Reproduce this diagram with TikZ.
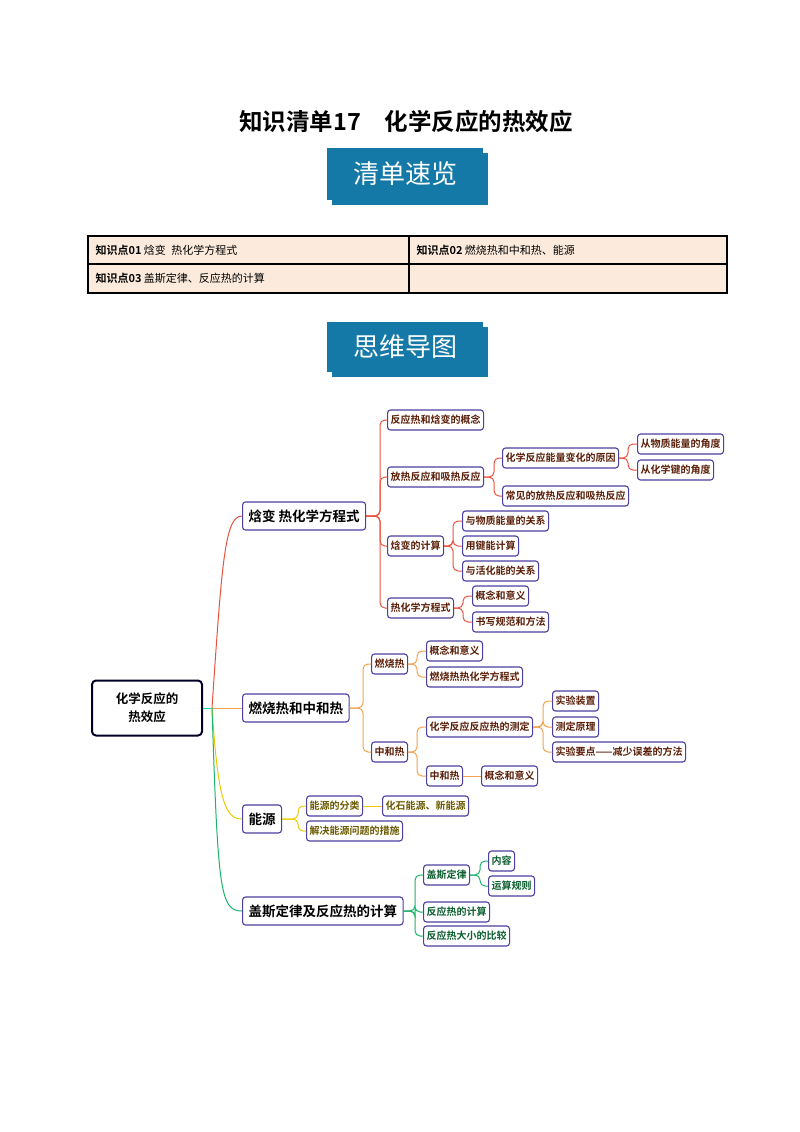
\documentclass[tikz,border=0pt]{standalone}
\usepackage{fontspec}
\setmainfont{Noto Sans CJK SC}
\newfontfamily\cjkb{Noto Sans CJK SC Bold}
\usetikzlibrary{positioning}
\definecolor{bannerblue}{HTML}{1479A6}
\definecolor{tabfill}{HTML}{FCEBDD}
\definecolor{nodeb}{HTML}{4B3FA0}
\definecolor{cred}{HTML}{E8533F}
\definecolor{corg}{HTML}{F4A14C}
\definecolor{cyel}{HTML}{EEC800}
\definecolor{cgrn}{HTML}{1DB36B}
\definecolor{tbrown}{HTML}{5A1E08}
\definecolor{tolive}{HTML}{6B5A00}
\definecolor{tgreen}{HTML}{0B5E2E}
\tikzset{
  lvl/.style={draw=nodeb,line width=1.1pt,rounded corners=3pt,fill=white,anchor=west,inner xsep=3pt,inner ysep=2pt,minimum height=20pt,font=\fontsize{10}{11}\selectfont\cjkb},
  one/.style={lvl,minimum height=28pt,inner xsep=6pt,font=\fontsize{13.5}{15}\selectfont\cjkb},
  br/.style={rounded corners=5pt,line width=1pt},
  banner/.style={fill=bannerblue,minimum width=156pt,minimum height=52pt,text=white,font=\fontsize{26}{28}\selectfont},
}
\begin{document}
\begin{tikzpicture}[x=1pt,y=-1pt]
\useasboundingbox (0,0) rectangle (800,1132);
\node (title) at (406,122) {\fontsize{23.5}{25}\selectfont\cjkb 知识清单17\quad 化学反应的热效应};
% banner 1
\fill[bannerblue] (332,153) rectangle (488,205);
\fill[white] (327,148) rectangle (483,200);
\node[banner] (b1) at (405,174) {清单速览};
% table
\fill[tabfill] (88,236) rectangle (727,293);
\draw[line width=1.3pt] (88,236) rectangle (727,293) (88,264)--(727,264) (409,236)--(409,293);
\node[anchor=west] (t1) at (92,250) {\fontsize{11}{13}\selectfont{\cjkb 知识点01} 焓变\enspace 热化学方程式};
\node[anchor=west] (t2) at (413,250) {\fontsize{11}{13}\selectfont{\cjkb 知识点02} 燃烧热和中和热、能源};
\node[anchor=west] (t3) at (92,278) {\fontsize{11}{13}\selectfont{\cjkb 知识点03} 盖斯定律、反应热的计算};
% banner 2
\fill[bannerblue] (332,327) rectangle (488,377);
\fill[white] (327,322) rectangle (483,372);
\node[banner,minimum height=50pt] (b2) at (405,347) {思维导图};
% root
\node[draw=black!85!blue,line width=2pt,rounded corners=4pt,minimum width=110pt,minimum height=55pt,align=center,font=\fontsize{12.5}{18}\selectfont\cjkb,fill=white] (root) at (147,708) {化学反应的\\热效应};
% level 1
\node[one] (A) at (242,516) {焓变 热化学方程式};
\node[one] (B) at (242,708) {燃烧热和中和热};
\node[one] (C) at (242,819) {能源};
\node[one] (D) at (242,911) {盖斯定律及反应热的计算};
\coordinate (rs) at (212,708);
\draw[line width=1pt,cgrn!60!cyan] (root.east) -- (rs);
\draw[line width=1pt,cred] (rs) .. controls (222,560) and (225,516) .. (A.west);
\draw[line width=1pt,corg] (rs) -- (B.west);
\draw[line width=1pt,cyel] (rs) .. controls (218,800) and (225,819) .. (C.west);
\draw[line width=1pt,cgrn] (rs) .. controls (218,890) and (220,911) .. (D.west);
% red branch
\begin{scope}[every node/.append style={text=tbrown}]
\node[lvl] (A1) at (387,420) {反应热和焓变的概念};
\node[lvl] (A2) at (387,477) {放热反应和吸热反应};
\node[lvl] (A3) at (387,546) {焓变的计算};
\node[lvl] (A4) at (387,608) {热化学方程式};
\node[lvl] (A21) at (502,458) {化学反应能量变化的原因};
\node[lvl] (A22) at (502,496) {常见的放热反应和吸热反应};
\node[lvl] (A211) at (637,444) {从物质能量的角度};
\node[lvl] (A212) at (637,470) {从化学键的角度};
\node[lvl] (A31) at (462,521) {与物质能量的关系};
\node[lvl] (A32) at (462,546) {用键能计算};
\node[lvl] (A33) at (462,571) {与活化能的关系};
\node[lvl] (A41) at (472,596) {概念和意义};
\node[lvl] (A42) at (472,622) {书写规范和方法};
\end{scope}
\begin{scope}[br,cred]
\foreach \c in {A1,A2,A3,A4} \draw (A.east) -- (380,516) |- (\c.west);
\foreach \c in {A21,A22} \draw (A2.east) -- (494,477) |- (\c.west);
\foreach \c in {A211,A212} \draw (A21.east) -- (628,458) |- (\c.west);
\foreach \c in {A31,A32,A33} \draw (A3.east) -- (453,546) |- (\c.west);
\foreach \c in {A41,A42} \draw (A4.east) -- (463,608) |- (\c.west);
\end{scope}
% orange branch
\begin{scope}[every node/.append style={text=tbrown}]
\node[lvl] (B1) at (371,664) {燃烧热};
\node[lvl] (B2) at (371,752) {中和热};
\node[lvl] (B11) at (426,651) {概念和意义};
\node[lvl] (B12) at (426,677) {燃烧热热化学方程式};
\node[lvl] (B21) at (426,727) {化学反应反应热的测定};
\node[lvl] (B22) at (426,776) {中和热};
\node[lvl] (B221) at (481,776) {概念和意义};
\node[lvl] (B211) at (552,701) {实验装置};
\node[lvl] (B212) at (552,727) {测定原理};
\node[lvl] (B213) at (552,752) {实验要点——减少误差的方法};
\end{scope}
\begin{scope}[br,corg]
\foreach \c in {B1,B2} \draw (B.east) -- (363,708) |- (\c.west);
\foreach \c in {B11,B12} \draw (B1.east) -- (417,664) |- (\c.west);
\foreach \c in {B21,B22} \draw (B2.east) -- (417,752) |- (\c.west);
\draw (B22.east) -- (B221.west);
\foreach \c in {B211,B212,B213} \draw (B21.east) -- (543,727) |- (\c.west);
\end{scope}
% yellow branch
\begin{scope}[every node/.append style={text=tolive}]
\node[lvl] (C1) at (306,806) {能源的分类};
\node[lvl] (C2) at (306,831) {解决能源问题的措施};
\node[lvl] (C11) at (382,806) {化石能源、新能源};
\end{scope}
\begin{scope}[br,cyel]
\foreach \c in {C1,C2} \draw (C.east) -- (298,819) |- (\c.west);
\draw (C1.east) -- (C11.west);
\end{scope}
% green branch
\begin{scope}[every node/.append style={text=tgreen}]
\node[lvl] (D1) at (423,875) {盖斯定律};
\node[lvl] (D2) at (423,912) {反应热的计算};
\node[lvl] (D3) at (423,936) {反应热大小的比较};
\node[lvl] (D11) at (488,861) {内容};
\node[lvl] (D12) at (488,886) {运算规则};
\end{scope}
\begin{scope}[br,cgrn]
\foreach \c in {D1,D2,D3} \draw (D.east) -- (415,911) |- (\c.west);
\foreach \c in {D11,D12} \draw (D1.east) -- (480,875) |- (\c.west);
\end{scope}
\end{tikzpicture}
\end{document}
